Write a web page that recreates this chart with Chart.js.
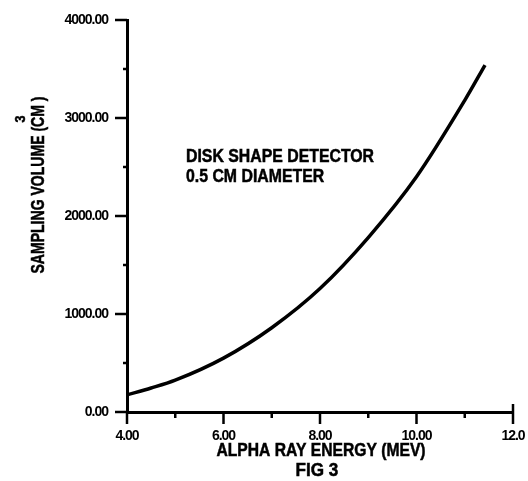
<!DOCTYPE html>
<html>
<head>
<meta charset="utf-8">
<script src="https://cdn.jsdelivr.net/npm/chart.js@4/dist/chart.umd.min.js"></script>
<style>
  html, body { margin: 0; padding: 0; background: #fff; overflow: hidden; }
  #wrap { width: 528px; height: 481px; position: relative; }
  #c { display: block; }
</style>
</head>
<body>
<div id="wrap"><canvas id="c"></canvas></div>
<script>
// ---- data ----
const energyMeV = [4.0, 4.5, 5.0, 6.0, 7.0, 8.0, 9.0, 10.0, 11.0, 11.42];
const samplingVolume = [175, 245, 325, 550, 860, 1260, 1780, 2400, 3180, 3540];
const xTickValues = [4, 6, 8, 10, 12];
const xTickLabels = ['4.00', '6.00', '8.00', '10.00', '12.0'];
const yTickValues = [0, 1000, 2000, 3000, 4000];
const yTickLabels = ['0.00', '1000.00', '2000.00', '3000.00', '4000.00'];
const xMinorTicks = [5, 7, 9, 11];
const yMinorTicks = [500, 1500, 2500, 3500];
const xTitle = 'ALPHA RAY ENERGY (MEV)';
const figLabel = 'FIG 3';
const yTitle = 'SAMPLING VOLUME (CM )';
const yTitleSup = '3';
const noteLines = ['DISK SHAPE DETECTOR', '0.5 CM DIAMETER'];

const FONT = "'Liberation Sans', Arial, sans-serif";

function condensedText(ctx, text, x, y, size, sx, rot, align) {
  ctx.save();
  ctx.translate(x, y);
  if (rot) ctx.rotate(rot);
  ctx.scale(sx, 1);
  ctx.font = 'bold ' + size + 'px ' + FONT;
  ctx.textAlign = align || 'center';
  ctx.textBaseline = 'middle';
  ctx.fillText(text, 0, 0);
  ctx.lineWidth = 0.5;
  ctx.strokeStyle = '#000';
  ctx.strokeText(text, 0, 0);
  ctx.restore();
}

const spacingPlugin = {
  id: 'spacing',
  beforeUpdate(chart) { chart.ctx.letterSpacing = '-1px'; },
  beforeDraw(chart) { chart.ctx.letterSpacing = '-1px'; }
};

const tickPlugin = {
  id: 'ticksAndText',
  afterDraw(chart) {
    const ctx = chart.ctx;
    const xs = chart.scales.x, ys = chart.scales.y;
    const ca = chart.chartArea;
    ctx.save();
    ctx.strokeStyle = '#000';
    ctx.lineCap = 'butt';
    ctx.lineWidth = 2.5;
    yTickValues.forEach(v => {
      const p = ys.getPixelForValue(v);
      ctx.beginPath(); ctx.moveTo(ca.left - 12, p); ctx.lineTo(ca.left, p); ctx.stroke();
    });
    yMinorTicks.forEach(v => {
      const p = ys.getPixelForValue(v);
      ctx.beginPath(); ctx.moveTo(ca.left - 4, p); ctx.lineTo(ca.left, p); ctx.stroke();
    });
    xTickValues.forEach(v => {
      const p = xs.getPixelForValue(v);
      ctx.beginPath(); ctx.moveTo(p, ca.bottom); ctx.lineTo(p, ca.bottom + 12); ctx.stroke();
    });
    {
      const p = xs.getPixelForValue(12);
      ctx.beginPath(); ctx.moveTo(p, ca.bottom - 8); ctx.lineTo(p, ca.bottom); ctx.stroke();
    }
    xMinorTicks.forEach(v => {
      const p = xs.getPixelForValue(v);
      ctx.beginPath(); ctx.moveTo(p, ca.bottom); ctx.lineTo(p, ca.bottom + 6); ctx.stroke();
    });
    ctx.fillStyle = '#000';
    ctx.letterSpacing = '0px';
    // annotation
    condensedText(ctx, noteLines[0], ca.left + 59, ca.top + 137, 18, 0.88, 0, 'left');
    condensedText(ctx, noteLines[1], ca.left + 59, ca.top + 157, 18, 0.88, 0, 'left');
    // x title + figure label
    const cx = (ca.left + ca.right) / 2 + 1;
    condensedText(ctx, xTitle, cx, ca.bottom + 39, 18, 0.87, 0, 'center');
    condensedText(ctx, figLabel, cx - 4, ca.bottom + 59, 18, 0.95, 0, 'center');
    // y title (rotated) + superscript
    condensedText(ctx, yTitle, 39, 185, 18, 0.78, -Math.PI / 2, 'center');
    condensedText(ctx, yTitleSup, 21, 119, 14, 0.9, -Math.PI / 2, 'center');
    ctx.restore();
  }
};

const hiddenTicks = (len) => ({
  display: true, drawOnChartArea: false, drawTicks: true,
  tickLength: len, tickColor: 'rgba(0,0,0,0)', color: 'rgba(0,0,0,0)'
});

new Chart(document.getElementById('c'), {
  type: 'line',
  data: {
    datasets: [{
      data: energyMeV.map((x, i) => ({ x: x, y: samplingVolume[i] })),
      borderColor: '#000',
      borderWidth: 3.5,
      pointRadius: 0,
      cubicInterpolationMode: 'monotone',
      fill: false
    }]
  },
  options: {
    responsive: true,
    maintainAspectRatio: false,
    animation: false,
    layout: { padding: { left: 0, right: 15, top: 20, bottom: 0 } },
    plugins: { legend: { display: false }, tooltip: { enabled: false } },
    scales: {
      x: {
        type: 'linear',
        min: 4, max: 12,
        afterFit(s) { s.height = 69; },
        afterBuildTicks(s) { s.ticks = xTickValues.map(v => ({ value: v })); },
        border: { display: true, color: '#000', width: 3 },
        grid: hiddenTicks(16),
        ticks: {
          color: '#000',
          padding: 0,
          maxRotation: 0,
          font: { family: FONT, size: 14, weight: 'bold' },
          callback: (v) => xTickLabels[xTickValues.indexOf(v)]
        }
      },
      y: {
        type: 'linear',
        min: 0, max: 4000,
        afterFit(s) { s.width = 127; },
        afterBuildTicks(s) { s.ticks = yTickValues.map(v => ({ value: v })); },
        border: { display: true, color: '#000', width: 3 },
        grid: hiddenTicks(19),
        ticks: {
          color: '#000',
          padding: 0,
          font: { family: FONT, size: 14, weight: 'bold' },
          callback: (v) => yTickLabels[yTickValues.indexOf(v)]
        }
      }
    }
  },
  plugins: [spacingPlugin, tickPlugin]
});
</script>
</body>
</html>
